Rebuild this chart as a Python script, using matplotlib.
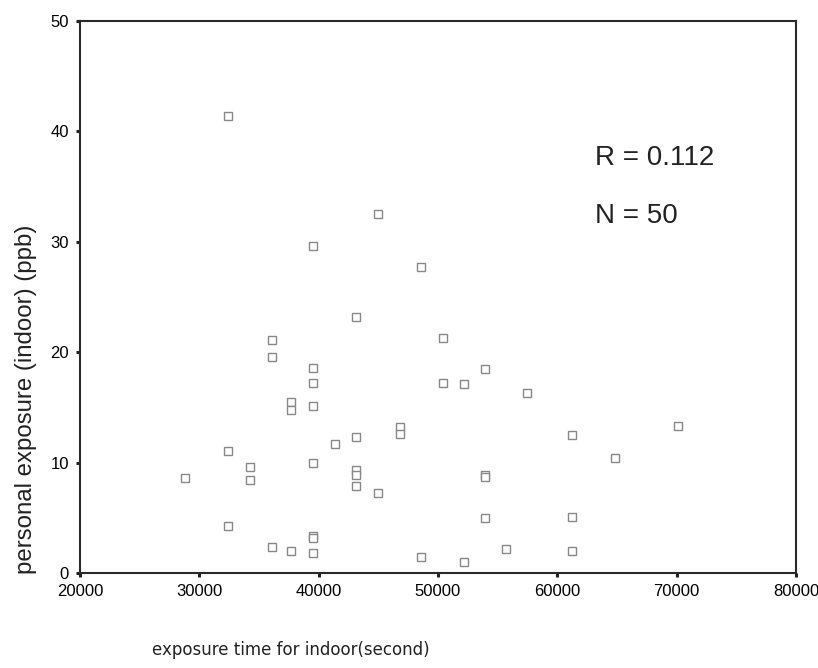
import matplotlib.pyplot as plt

# exposure time (s) and personal exposure (ppb)
tiempo = [28800, 32400, 32400, 32400, 34250, 34250, 36100, 36100, 36100,
          37700, 37700, 37700, 39500, 39500, 39500, 39500, 39500, 39500,
          39500, 39500, 41350, 43150, 43150, 43150, 43150, 43150, 44950,
          44950, 46800, 46800, 48600, 48600, 50400, 50400, 52200, 52200,
          53900, 53900, 53900, 53900, 55700, 57500, 61200, 61200, 61200,
          64800, 70100]
exposicion = [8.6, 41.4, 11.1, 4.3, 9.6, 8.4, 21.1, 19.6, 2.4,
              15.5, 14.8, 2.0, 29.6, 18.6, 17.2, 15.1, 10.0, 3.4,
              3.2, 1.8, 11.7, 23.2, 12.3, 9.3, 8.9, 7.9, 32.5,
              7.3, 13.2, 12.6, 27.7, 1.5, 21.3, 17.2, 17.1, 1.0,
              18.5, 8.9, 8.7, 5.0, 2.2, 16.3, 12.5, 5.1, 2.0,
              10.4, 13.3]

xticks = [20000, 30000, 40000, 50000, 60000, 70000, 80000]
yticks = [0, 10, 20, 30, 40, 50]

fig = plt.figure(figsize=(8.18, 6.68), dpi=100)
ax = fig.add_axes([0.0978, 0.1418, 0.8753, 0.8272])

ax.plot(tiempo, exposicion, linestyle='none', marker='s', markersize=6,
        markerfacecolor='white', markeredgecolor='#888888', markeredgewidth=1.0)

ax.set_xlim(20000, 80000)
ax.set_ylim(0, 50)
ax.set_xticks(xticks)
ax.set_yticks(yticks)
ax.set_xticklabels([str(t) for t in xticks], fontfamily='Liberation Sans', fontsize=12)
ax.set_yticklabels([str(t) for t in yticks], fontfamily='Liberation Sans', fontsize=12)
ax.tick_params(direction='out', length=3, width=2.2, color='#222222', pad=5)

for lado in ax.spines.values():
    lado.set_linewidth(1.5)
    lado.set_color('#2a2a2a')

# the label sits low, centred near y=15 rather than mid-axis
ax.set_ylabel('personal exposure (indoor) (ppb)', fontfamily='Liberation Sans',
              fontsize=17.3, color='#222222')
ax.yaxis.set_label_coords(-0.060, 0.314)

ax.text(0.719, 0.739, 'R = 0.112', transform=ax.transAxes, fontfamily='Liberation Sans',
        fontsize=20, color='#222222', va='baseline')
ax.text(0.719, 0.634, 'N = 50', transform=ax.transAxes, fontfamily='Liberation Sans',
        fontsize=20, color='#222222', va='baseline')

fig.text(152 / 818, 1 - 650 / 668, 'exposure time for indoor(second)',
         fontfamily='DejaVu Sans', fontsize=12, color='#222222', va='center')

plt.savefig('out.png', dpi=100)
